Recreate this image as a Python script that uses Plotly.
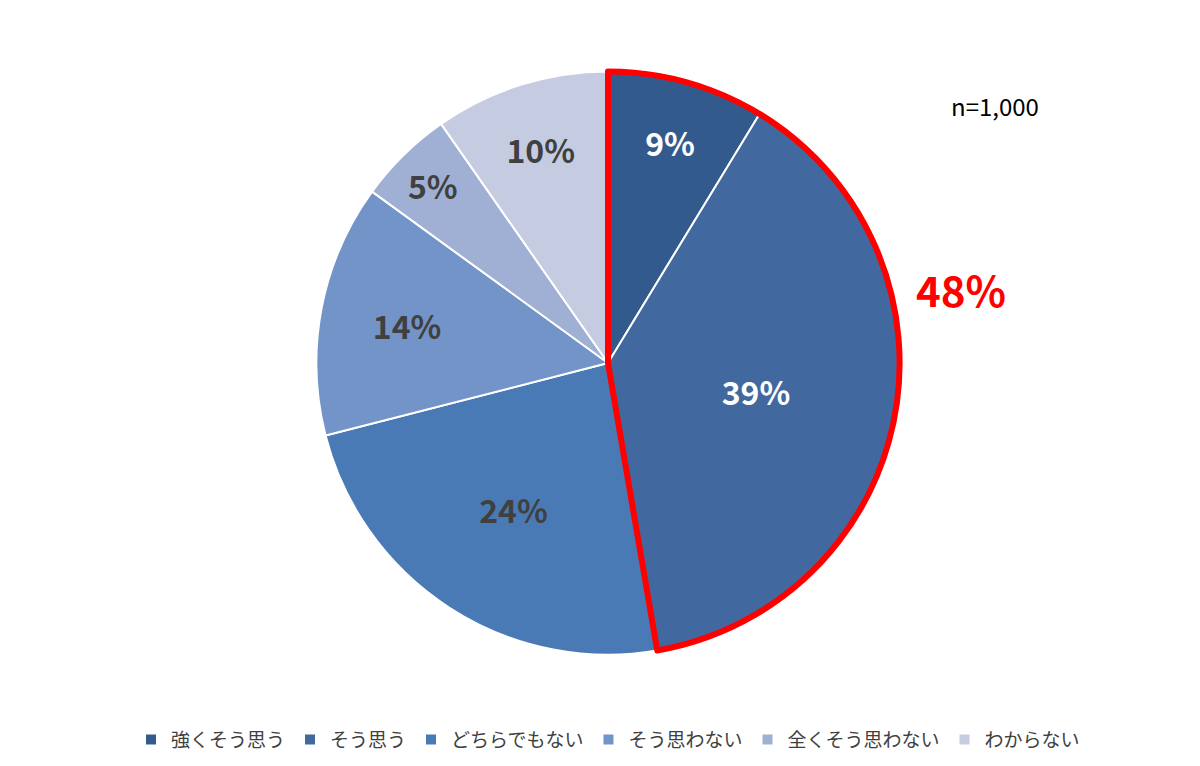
import plotly.graph_objects as go

categories = ["強くそう思う", "そう思う", "どちらでもない", "そう思わない", "全くそう思わない", "わからない"]
values = [8.7, 38.6, 23.7, 14.0, 5.3, 9.7]
labels_text = ["9%", "39%", "24%", "14%", "5%", "10%"]
colors = ["#335A8C", "#41699F", "#4A7AB5", "#7294C8", "#A0B0D5", "#C5CCE2"]
text_colors = ["white", "white", "#404040", "#404040", "#404040", "#404040"]
highlight_values = [values[0] + values[1], sum(values[2:])]

dom = dict(x=[0.257, 0.743], y=[0.155, 0.918])
fig = go.Figure()
fig.add_trace(go.Pie(
    labels=categories, values=values, sort=False, direction="clockwise", rotation=0,
    marker=dict(colors=colors, line=dict(color="white", width=2)),
    text=labels_text, texttemplate="%{text}", textinfo="text", textposition="inside",
    insidetextorientation="horizontal",
    textfont=dict(family="Noto Sans CJK JP", size=32, color=text_colors, weight="bold"),
    domain=dom, hoverinfo="label+percent"))
fig.add_trace(go.Pie(
    labels=["hl", "rest"], values=highlight_values, sort=False, direction="clockwise", rotation=0,
    marker=dict(colors=["rgba(0,0,0,0)", "rgba(0,0,0,0)"], line=dict(color=["#FF0000", "rgba(0,0,0,0)"], width=[6, 0])),
    textinfo="none", showlegend=False, hoverinfo="skip", domain=dom))
fig.add_annotation(x=1000/1200, y=1-280/766, xref="paper", yref="paper", text="<b>48%</b>",
                   showarrow=False, font=dict(family="Noto Sans CJK JP", size=42, color="#FF0000"))
fig.add_annotation(x=1033/1200, y=1-78/766, xref="paper", yref="paper", text="n=1,000",
                   showarrow=False, font=dict(family="Noto Sans CJK JP", size=24, color="black"))
fig.update_layout(
    width=1200, height=766, margin=dict(l=0, r=0, t=0, b=0),
    paper_bgcolor="white", plot_bgcolor="white",
    legend=dict(orientation="h", x=0.5, xanchor="center", y=0.02, yanchor="bottom",
                font=dict(family="Noto Sans CJK JP", size=19, color="#404040"), itemwidth=30))
fig.write_html("out.html")
